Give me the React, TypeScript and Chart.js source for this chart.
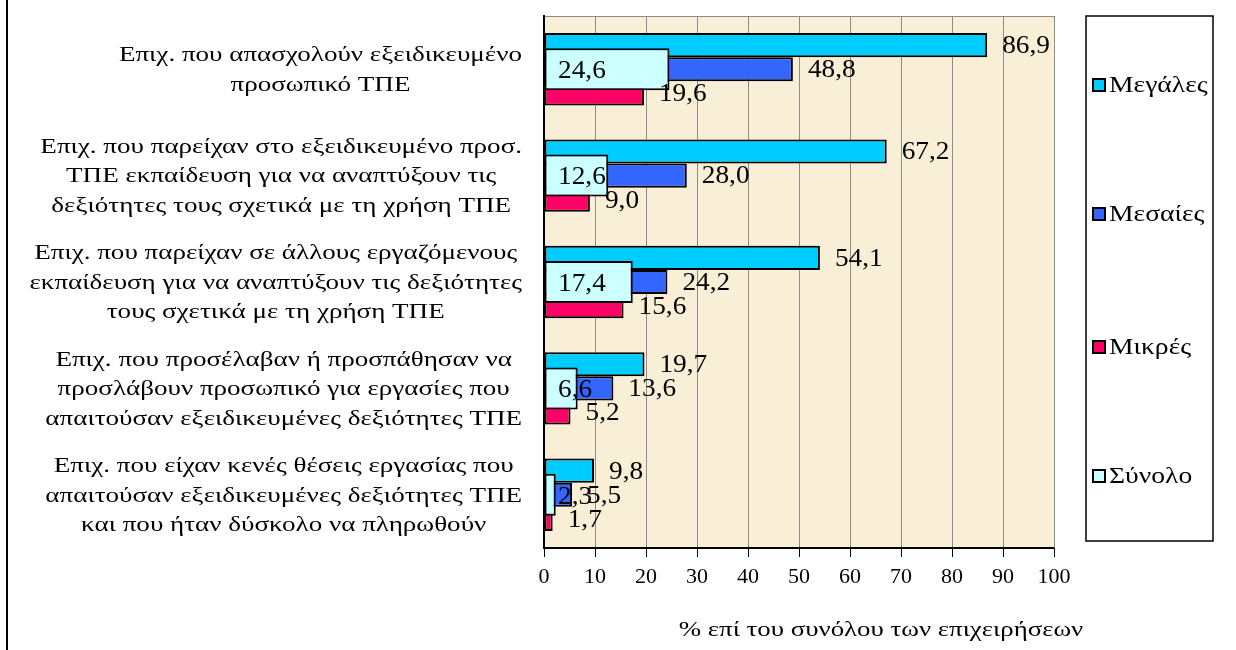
import React, { useEffect, useRef } from "react";
import { Chart, registerables } from "chart.js";

Chart.register(...registerables);

const categories: string[][] = [
  ["Επιχ. που απασχολούν εξειδικευμένο", "προσωπικό ΤΠΕ"],
  ["Επιχ. που παρείχαν στο εξειδικευμένο προσ.", "ΤΠΕ εκπαίδευση για να αναπτύξουν τις", "δεξιότητες τους σχετικά με τη χρήση ΤΠΕ"],
  ["Επιχ. που παρείχαν σε άλλους εργαζόμενους", "εκπαίδευση για να αναπτύξουν τις δεξιότητες", "τους σχετικά με τη χρήση ΤΠΕ"],
  ["Επιχ. που προσέλαβαν ή προσπάθησαν να", "προσλάβουν προσωπικό για εργασίες που", "απαιτούσαν εξειδικευμένες δεξιότητες ΤΠΕ"],
  ["Επιχ. που είχαν κενές θέσεις εργασίας που", "απαιτούσαν εξειδικευμένες δεξιότητες ΤΠΕ", "και που ήταν δύσκολο να πληρωθούν"],
];

const seriesNames = ["Μεγάλες", "Μεσαίες", "Μικρές", "Σύνολο"];
const large = [86.9, 67.2, 54.1, 19.7, 9.8];
const medium = [48.8, 28.0, 24.2, 13.6, 5.5];
const small = [19.6, 9.0, 15.6, 5.2, 1.7];
const total = [24.6, 12.6, 17.4, 6.6, 2.3];
const colors = ["#00ccff", "#3366ff", "#ff0066", "#ccffff"];
const xTicks = [0, 10, 20, 30, 40, 50, 60, 70, 80, 90, 100];
const axisTitle = "% επί του συνόλου των επιχειρήσεων";

const SERIF = "'Liberation Serif', 'Times New Roman', serif";

const fmt = (v: number) => v.toFixed(1).replace(".", ",");

function stretchText(ctx: CanvasRenderingContext2D, text: string, x: number, y: number, sx: number, align: CanvasTextAlign) {
  ctx.save();
  ctx.translate(x, y);
  ctx.scale(sx, 1);
  ctx.textAlign = align;
  ctx.fillText(text, 0, 0);
  ctx.restore();
}

const customPlugin = {
  id: "custom",
  beforeDatasetsDraw(chart: any) {
    const { ctx, chartArea: a } = chart;
    ctx.save();
    ctx.fillStyle = "#f9eed6";
    ctx.fillRect(a.left, a.top, a.right - a.left, a.bottom - a.top);
    const xs = chart.scales.x;
    ctx.strokeStyle = "#8c8c8c";
    ctx.lineWidth = 1;
    xTicks.forEach((t) => {
      const px = Math.round(xs.getPixelForValue(t)) + 0.5;
      ctx.beginPath();
      ctx.moveTo(px, a.top);
      ctx.lineTo(px, a.bottom);
      ctx.stroke();
    });
    ctx.beginPath();
    ctx.moveTo(a.left, a.top + 0.5);
    ctx.lineTo(a.right, a.top + 0.5);
    ctx.stroke();
    ctx.strokeStyle = "#000";
    ctx.lineWidth = 2;
    ctx.beginPath();
    ctx.moveTo(a.left, a.top);
    ctx.lineTo(a.left, a.bottom);
    ctx.lineTo(a.right, a.bottom);
    ctx.stroke();
    ctx.restore();
  },
  afterDatasetsDraw(chart: any) {
    const { ctx } = chart;
    const xs = chart.scales.x;
    ctx.save();
    ctx.fillStyle = "#000";
    ctx.textBaseline = "middle";
    ctx.font = `26px ${SERIF}`;
    chart.data.datasets.forEach((ds: any, di: number) => {
      const meta = chart.getDatasetMeta(di);
      meta.data.forEach((el: any, i: number) => {
        const v = ds.data[i];
        if (di === 3) {
          stretchText(ctx, fmt(v), xs.getPixelForValue(0) + 14, el.y + 2, 1.05, "left");
        } else {
          stretchText(ctx, fmt(v), el.x + 15, el.y + 1, 1.05, "left");
        }
      });
    });
    ctx.restore();
  },
  afterDraw(chart: any) {
    const { ctx } = chart;
    const ys = chart.scales.y;
    ctx.save();
    ctx.fillStyle = "#000";
    ctx.textBaseline = "middle";
    // category labels
    const catSx = 1.23;
    ctx.font = `22px ${SERIF}`;
    const lh = 29.5;
    categories.forEach((lines, i) => {
      const cy = ys.getPixelForValue(i) + 1;
      const w = Math.max(...lines.map((l) => ctx.measureText(l).width)) * catSx;
      const cx = 522 - w / 2;
      lines.forEach((l, k) => {
        stretchText(ctx, l, cx, cy + (k - (lines.length - 1) / 2) * lh, catSx, "center");
      });
    });
    // axis title
    ctx.font = `22px ${SERIF}`;
    stretchText(ctx, axisTitle, 881, 630, 1.22, "center");
    // legend
    ctx.strokeStyle = "#000";
    ctx.lineWidth = 1.5;
    ctx.strokeRect(1086, 16, 127, 525);
    const itemY = [85, 214, 347, 476];
    ctx.font = `23px ${SERIF}`;
    seriesNames.forEach((n, i) => {
      const y = itemY[i];
      ctx.fillStyle = colors[i];
      ctx.fillRect(1093, y - 6, 12, 12);
      ctx.lineWidth = 2;
      ctx.strokeRect(1093, y - 6, 12, 12);
      ctx.fillStyle = "#000";
      stretchText(ctx, n, 1109, y + 1, 1.2, "left");
    });
    // left border
    ctx.beginPath();
    ctx.lineWidth = 2;
    ctx.moveTo(7, 0);
    ctx.lineTo(7, 650);
    ctx.stroke();
    ctx.restore();
  },
};

export default function App() {
  const ref = useRef<HTMLCanvasElement | null>(null);
  useEffect(() => {
    document.body.style.margin = "0";
    const labels = categories.map((c) => c.join(" "));
    const mk = (i: number, data: number[]) => ({
      label: seriesNames[i],
      data,
      backgroundColor: colors[i],
      borderColor: "#000",
      borderWidth: 2,
      borderSkipped: false,
      categoryPercentage: 0.68,
      barPercentage: 1,
      order: 1,
    });
    const chart = new Chart(ref.current as HTMLCanvasElement, {
      type: "bar",
      data: {
        labels,
        datasets: [
          mk(0, large),
          mk(1, medium),
          mk(2, small),
          {
            ...mk(3, total),
            grouped: false,
            categoryPercentage: 1,
            barPercentage: 0.395,
            order: 0,
          } as any,
        ],
      },
      options: {
        indexAxis: "y",
        animation: false,
        responsive: false,
        layout: { padding: { top: 16, right: 182, left: 0, bottom: 0 } },
        plugins: {
          legend: { display: false },
          tooltip: { enabled: false },
        },
        scales: {
          x: {
            min: 0,
            max: 100,
            ticks: {
              stepSize: 10,
              color: "#000",
              font: { family: SERIF, size: 22 },
              padding: 7,
              maxRotation: 0,
            },
            grid: {
              display: true,
              drawOnChartArea: false,
              tickColor: "#000",
              tickLength: 9,
              tickWidth: 1,
            },
            border: { display: true, color: "#000", width: 2 },
            afterFit: (s: any) => {
              s.height = 102;
            },
          },
          y: {
            ticks: { display: false },
            grid: { display: false },
            border: { display: true, color: "#000", width: 2 },
            afterFit: (s: any) => {
              s.width = 544;
            },
          },
        },
      } as any,
      plugins: [customPlugin],
    });
    return () => chart.destroy();
  }, []);
  return <canvas ref={ref} width={1236} height={650} style={{ display: "block" }} />;
}
